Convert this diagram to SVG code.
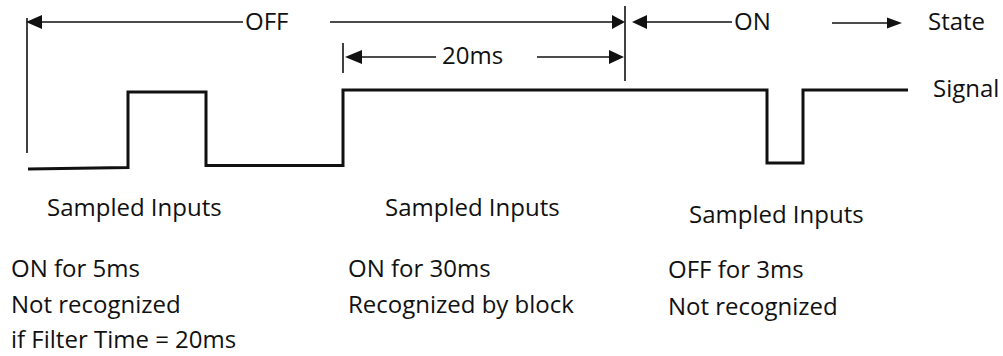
<svg xmlns="http://www.w3.org/2000/svg" width="1003" height="356" viewBox="0 0 1003 356">
<style>
text{font-family:"Open Sans","Noto Sans","Liberation Sans",sans-serif;font-size:24px;fill:#111}
.thin{stroke:#111;stroke-width:1.6;fill:none}
.sig{stroke:#111;stroke-width:3;fill:none}
.ah{fill:#111}
</style>
<rect width="1003" height="356" fill="#fff"/>
<g id="connectors">
<line class="thin" x1="27" y1="18" x2="27" y2="153"/>
<line class="thin" x1="625" y1="6" x2="625" y2="81"/>
<line class="thin" x1="343" y1="43" x2="343" y2="73"/>
<line class="thin" x1="40" y1="22" x2="243" y2="22"/>
<line class="thin" x1="330" y1="22" x2="613" y2="22"/>
<line class="thin" x1="645" y1="22" x2="732" y2="22"/>
<line class="thin" x1="832" y1="23" x2="889" y2="23"/>
<line class="thin" x1="360" y1="57" x2="436" y2="57"/>
<line class="thin" x1="537" y1="57" x2="611" y2="57"/>
<polygon class="ah" points="26,22 42,15 42,29"/>
<polygon class="ah" points="625,22 612,15 612,29"/>
<polygon class="ah" points="632,22 647,15 647,29"/>
<polygon class="ah" points="902,23 887,17.5 887,28.5"/>
<polygon class="ah" points="345,57 362,50 362,64"/>
<polygon class="ah" points="624,57 609,50 609,64"/>
</g>
<g id="signal">
<path class="sig" d="M28,169 L128,167.5 L128,92 L206,92 L206,165.5 L343,165.5 L343,90 L767,90 L767,163 L803,163 L803,90 L908,90"/>
</g>
<g id="labels-top">
<text x="245" y="30">OFF</text>
<text x="734" y="30">ON</text>
<text x="928" y="30">State</text>
<text x="442" y="64">20ms</text>
<text x="933" y="97">Signal</text>
</g>
<g id="note1">
<text x="47" y="216">Sampled Inputs</text>
<text x="11" y="277">ON for 5ms</text>
<text x="11" y="313">Not recognized</text>
<text x="11" y="348">if Filter Time = 20ms</text>
</g>
<g id="note2">
<text x="385" y="216">Sampled Inputs</text>
<text x="348" y="277">ON for 30ms</text>
<text x="348" y="313">Recognized by block</text>
</g>
<g id="note3">
<text x="689" y="223">Sampled Inputs</text>
<text x="668" y="278">OFF for 3ms</text>
<text x="668" y="315">Not recognized</text>
</g>
</svg>
